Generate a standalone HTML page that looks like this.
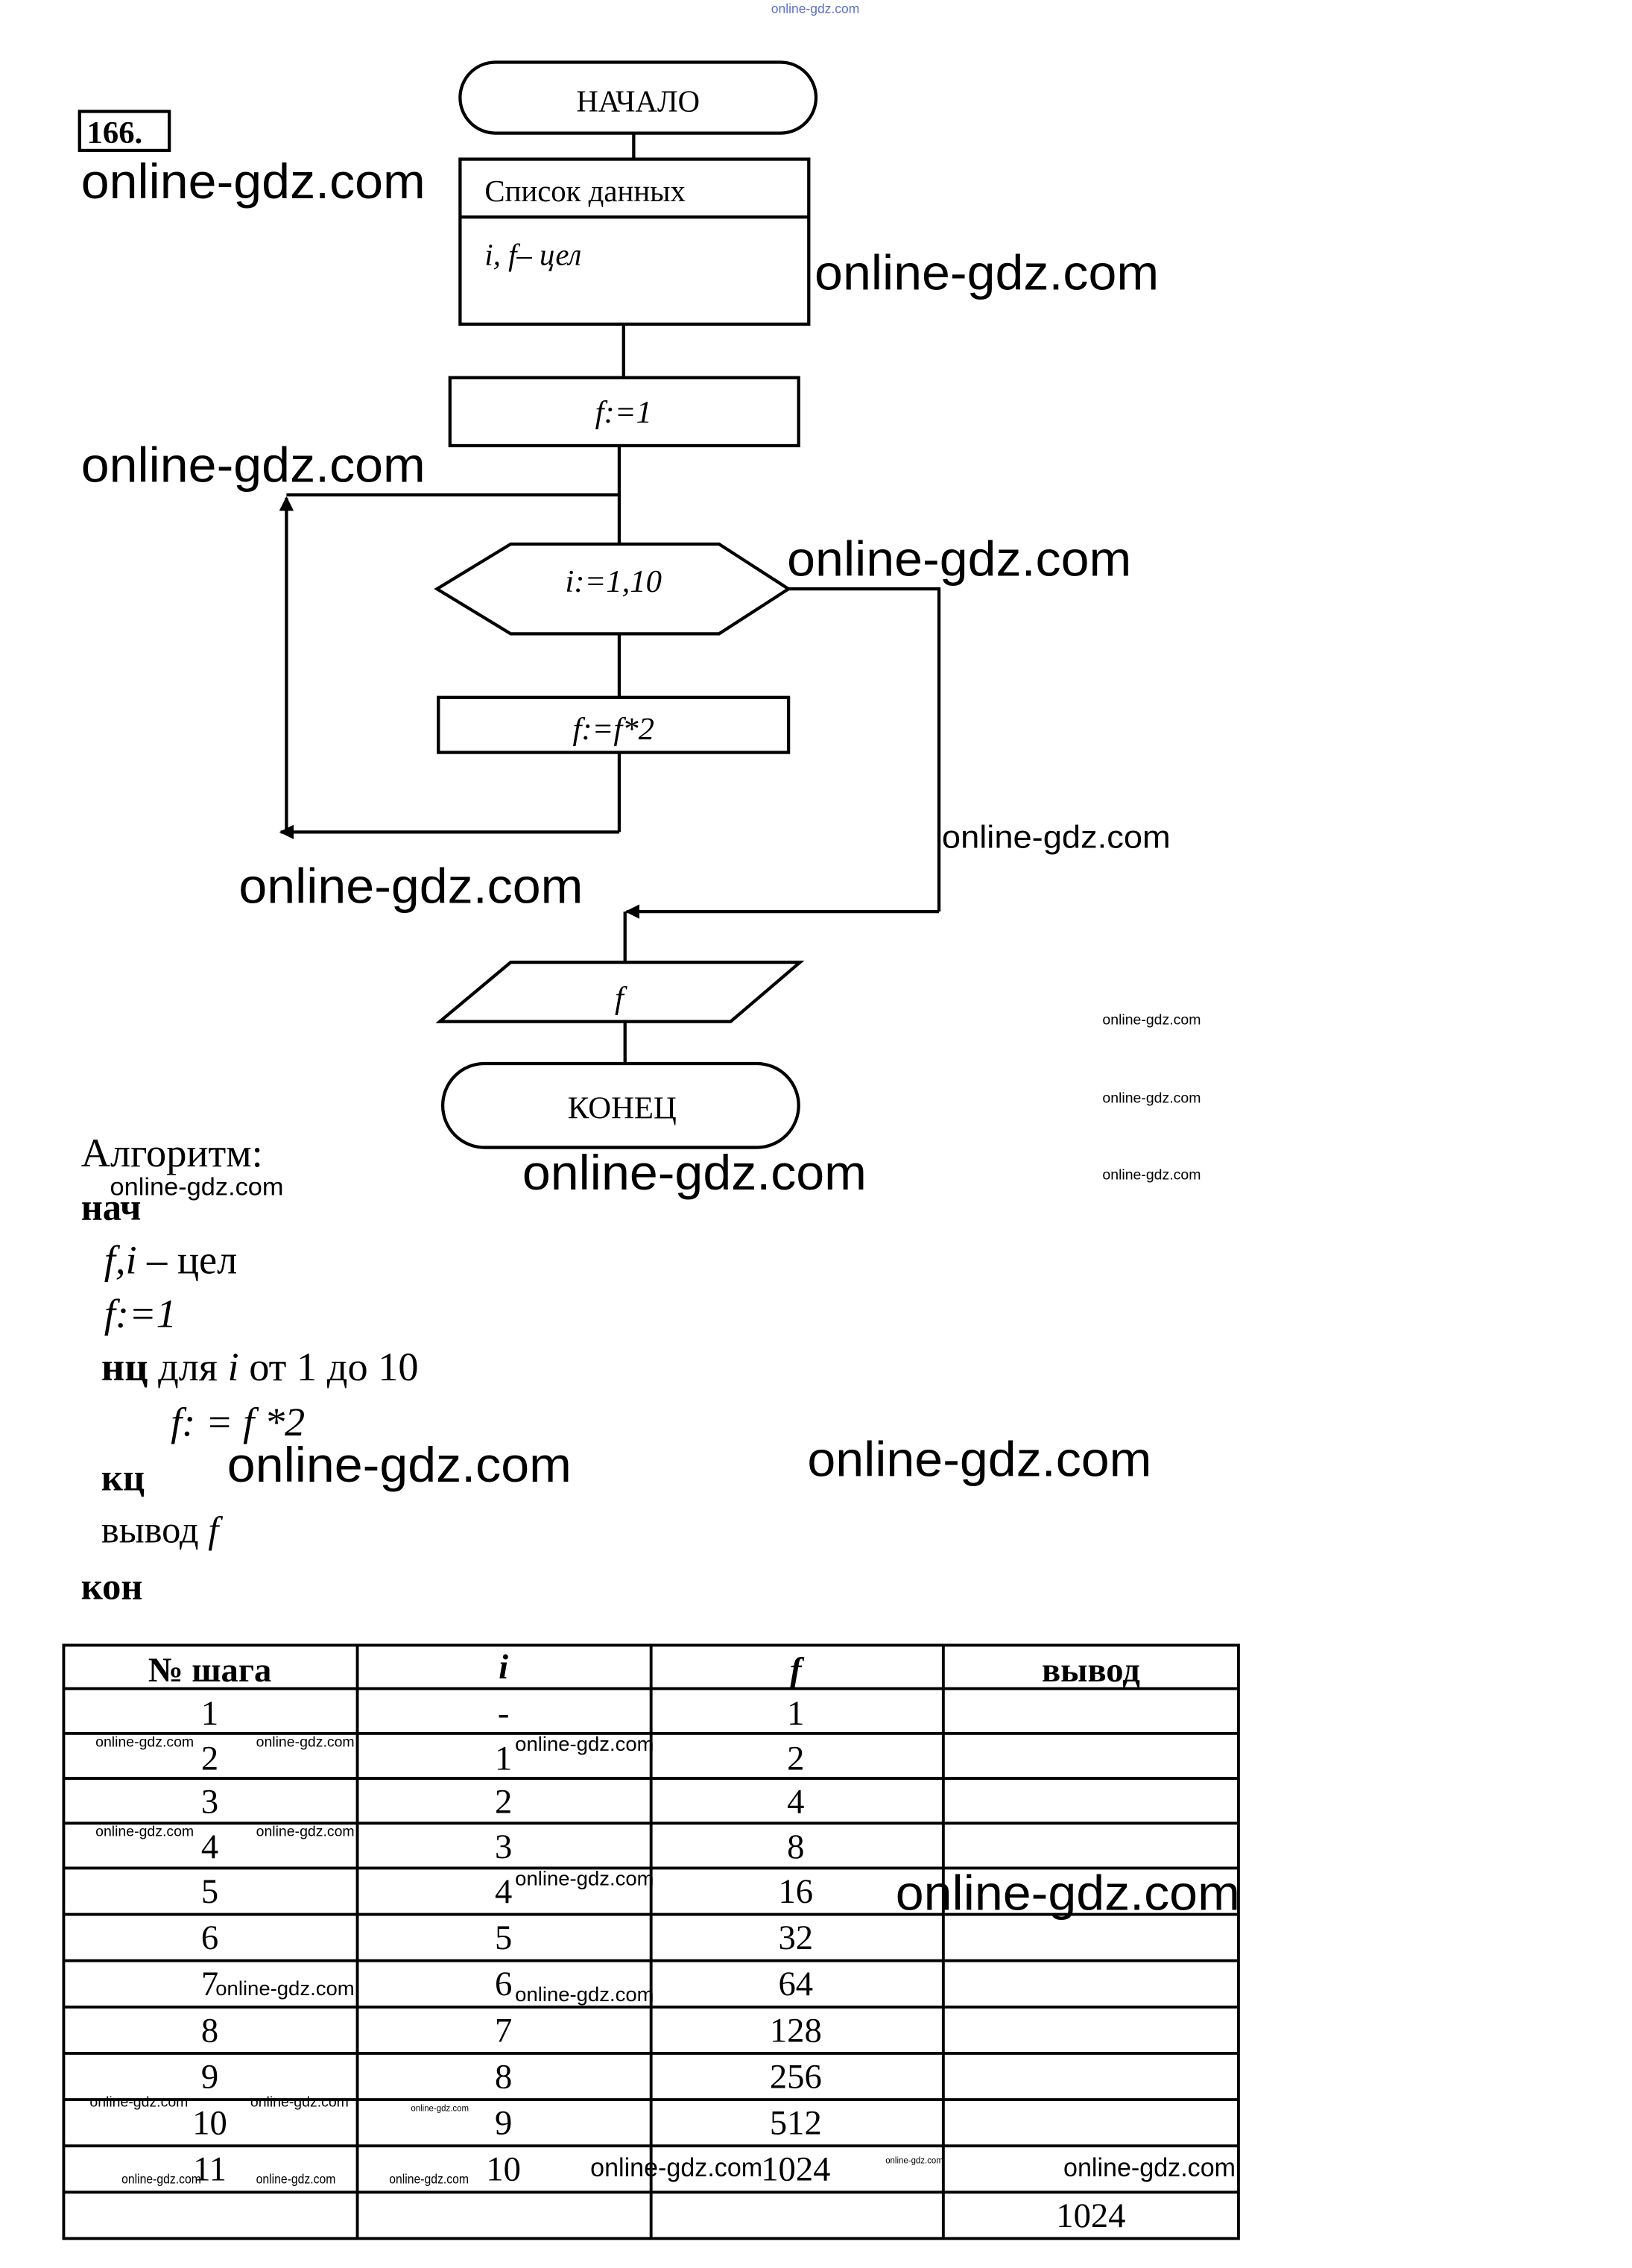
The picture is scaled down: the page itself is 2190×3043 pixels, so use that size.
<!DOCTYPE html>
<html><head><meta charset="utf-8"><style>
html,body{margin:0;padding:0;background:#fff}
svg{display:block}
.s{font-family:"Liberation Serif","DejaVu Serif",serif}
.w{font-family:"Liberation Sans","DejaVu Sans",sans-serif;fill:#000}
</style></head><body>
<svg width="2190" height="3043" viewBox="0 0 1128 1567.4" preserveAspectRatio="none" xmlns="http://www.w3.org/2000/svg">
<rect width="1140" height="1584" fill="#fff"/>
<defs><marker id="a" markerWidth="10" markerHeight="10" refX="9" refY="5" orient="auto" markerUnits="userSpaceOnUse"><path d="M0,0 L10,5 L0,10 z" fill="#000"/></marker></defs>
<text x="533" y="9" class="w" font-size="9" style="fill:#5a6fd0">online-gdz.com</text>
<g fill="none" stroke="#000" stroke-width="2.2">
<rect x="55" y="77" width="62" height="27"/>
<rect x="318" y="43" width="246" height="49" rx="24.5"/>
<line x1="438" y1="92" x2="438" y2="110"/>
<rect x="318" y="110" width="241" height="114"/>
<line x1="318" y1="150" x2="559" y2="150"/>
<line x1="431" y1="224" x2="431" y2="260"/>
<rect x="311" y="261" width="241" height="47"/>
<line x1="428" y1="308" x2="428" y2="376"/>
<line x1="428" y1="342" x2="198" y2="342"/>
<line x1="198" y1="575" x2="198" y2="344" marker-end="url(#a)"/>
<polygon points="302,407 353,376 497,376 545,407 497,438 353,438"/>
<line x1="428" y1="438" x2="428" y2="482"/>
<rect x="303" y="482" width="242" height="38"/>
<line x1="428" y1="520" x2="428" y2="575"/>
<line x1="428" y1="575" x2="194" y2="575" marker-end="url(#a)"/>
<polyline points="545,407 649,407 649,630"/>
<line x1="649" y1="630" x2="433" y2="630" marker-end="url(#a)"/>
<line x1="432" y1="630" x2="432" y2="665"/>
<polygon points="304,706 353,665 553,665 505,706"/>
<line x1="432" y1="706" x2="432" y2="735"/>
<rect x="306" y="735" width="246" height="58" rx="29"/>
</g>
<g class="s" fill="#000">
<text x="60" y="99" font-size="22" font-weight="bold">166.</text>
<text x="441" y="77" font-size="21" text-anchor="middle">НАЧАЛО</text>
<text x="335" y="139" font-size="21">Список данных</text>
<text x="335" y="183" font-size="21" font-style="italic">i, f– цел</text>
<text x="431" y="292" font-size="22" font-style="italic" text-anchor="middle">f:=1</text>
<text x="424" y="409" font-size="22" font-style="italic" text-anchor="middle">i:=1,10</text>
<text x="424" y="511" font-size="22" font-style="italic" text-anchor="middle">f:=f*2</text>
<text x="428" y="697" font-size="22" font-style="italic" text-anchor="middle">f</text>
<text x="430" y="773" font-size="22" text-anchor="middle">КОНЕЦ</text>
<text x="56" y="806" font-size="28">Алгоритм:</text>
<text x="56" y="843" font-size="26" font-weight="bold">нач</text>
<text x="72" y="880" font-size="28"><tspan font-style="italic">f,i</tspan> – цел</text>
<text x="72" y="917" font-size="28" font-style="italic">f:=1</text>
<text x="70" y="954" font-size="28"><tspan font-weight="bold">нц</tspan> для <tspan font-style="italic">i</tspan> от 1 до 10</text>
<text x="118" y="992" font-size="28" font-style="italic">f: = f *2</text>
<text x="70" y="1030" font-size="26" font-weight="bold">кц</text>
<text x="70" y="1066" font-size="26">вывод <tspan font-style="italic">f</tspan></text>
<text x="56" y="1105" font-size="26" font-weight="bold">кон</text>
</g>
<g fill="none" stroke="#000" stroke-width="2">
<rect x="44" y="1137" width="812" height="410"/>
<line x1="247" y1="1137" x2="247" y2="1547"/><line x1="450" y1="1137" x2="450" y2="1547"/><line x1="652" y1="1137" x2="652" y2="1547"/>
<line x1="44" y1="1167" x2="856" y2="1167"/><line x1="44" y1="1198" x2="856" y2="1198"/><line x1="44" y1="1229" x2="856" y2="1229"/><line x1="44" y1="1260" x2="856" y2="1260"/><line x1="44" y1="1291" x2="856" y2="1291"/><line x1="44" y1="1323" x2="856" y2="1323"/><line x1="44" y1="1355" x2="856" y2="1355"/><line x1="44" y1="1387" x2="856" y2="1387"/><line x1="44" y1="1419" x2="856" y2="1419"/><line x1="44" y1="1451" x2="856" y2="1451"/><line x1="44" y1="1483" x2="856" y2="1483"/><line x1="44" y1="1515" x2="856" y2="1515"/>
</g>
<g class="s" fill="#000" font-size="24" text-anchor="middle">
<text x="145" y="1162" font-weight="bold">№ шага</text><text x="348" y="1160" font-weight="bold" font-style="italic">i</text><text x="550" y="1162" font-weight="bold" font-style="italic">f</text><text x="754" y="1162" font-weight="bold">вывод</text>
<text x="145" y="1192">1</text><text x="348" y="1192">-</text><text x="550" y="1192">1</text>
<text x="145" y="1223">2</text><text x="348" y="1223">1</text><text x="550" y="1223">2</text>
<text x="145" y="1253">3</text><text x="348" y="1253">2</text><text x="550" y="1253">4</text>
<text x="145" y="1284">4</text><text x="348" y="1284">3</text><text x="550" y="1284">8</text>
<text x="145" y="1315">5</text><text x="348" y="1315">4</text><text x="550" y="1315">16</text>
<text x="145" y="1347">6</text><text x="348" y="1347">5</text><text x="550" y="1347">32</text>
<text x="145" y="1379">7</text><text x="348" y="1379">6</text><text x="550" y="1379">64</text>
<text x="145" y="1411">8</text><text x="348" y="1411">7</text><text x="550" y="1411">128</text>
<text x="145" y="1443">9</text><text x="348" y="1443">8</text><text x="550" y="1443">256</text>
<text x="145" y="1475">10</text><text x="348" y="1475">9</text><text x="550" y="1475">512</text>
<text x="145" y="1507">11</text><text x="348" y="1507">10</text><text x="550" y="1507">1024</text>
<text x="754" y="1539">1024</text>
</g>
<g class="w">
<text x="56" y="137" font-size="34" textLength="238" lengthAdjust="spacingAndGlyphs">online-gdz.com</text>
<text x="563" y="200" font-size="34" textLength="238" lengthAdjust="spacingAndGlyphs">online-gdz.com</text>
<text x="56" y="333" font-size="34" textLength="238" lengthAdjust="spacingAndGlyphs">online-gdz.com</text>
<text x="544" y="398" font-size="34" textLength="238" lengthAdjust="spacingAndGlyphs">online-gdz.com</text>
<text x="651" y="586" font-size="22" textLength="158" lengthAdjust="spacingAndGlyphs">online-gdz.com</text>
<text x="165" y="624" font-size="34" textLength="238" lengthAdjust="spacingAndGlyphs">online-gdz.com</text>
<text x="762" y="708" font-size="10" textLength="68" lengthAdjust="spacingAndGlyphs">online-gdz.com</text>
<text x="762" y="762" font-size="10" textLength="68" lengthAdjust="spacingAndGlyphs">online-gdz.com</text>
<text x="762" y="815" font-size="10" textLength="68" lengthAdjust="spacingAndGlyphs">online-gdz.com</text>
<text x="361" y="822" font-size="34" textLength="238" lengthAdjust="spacingAndGlyphs">online-gdz.com</text>
<text x="76" y="826" font-size="17" textLength="120" lengthAdjust="spacingAndGlyphs">online-gdz.com</text>
<text x="558" y="1020" font-size="34" textLength="238" lengthAdjust="spacingAndGlyphs">online-gdz.com</text>
<text x="157" y="1024" font-size="34" textLength="238" lengthAdjust="spacingAndGlyphs">online-gdz.com</text>
<text x="619" y="1320" font-size="34" textLength="238" lengthAdjust="spacingAndGlyphs">online-gdz.com</text>
<text x="66" y="1207" font-size="10" textLength="68" lengthAdjust="spacingAndGlyphs">online-gdz.com</text>
<text x="177" y="1207" font-size="10" textLength="68" lengthAdjust="spacingAndGlyphs">online-gdz.com</text>
<text x="356" y="1210" font-size="14" textLength="96" lengthAdjust="spacingAndGlyphs">online-gdz.com</text>
<text x="66" y="1269" font-size="10" textLength="68" lengthAdjust="spacingAndGlyphs">online-gdz.com</text>
<text x="177" y="1269" font-size="10" textLength="68" lengthAdjust="spacingAndGlyphs">online-gdz.com</text>
<text x="356" y="1303" font-size="14" textLength="96" lengthAdjust="spacingAndGlyphs">online-gdz.com</text>
<text x="149" y="1379" font-size="14" textLength="96" lengthAdjust="spacingAndGlyphs">online-gdz.com</text>
<text x="356" y="1383" font-size="14" textLength="96" lengthAdjust="spacingAndGlyphs">online-gdz.com</text>
<text x="62" y="1456" font-size="10" textLength="68" lengthAdjust="spacingAndGlyphs">online-gdz.com</text>
<text x="173" y="1456" font-size="10" textLength="68" lengthAdjust="spacingAndGlyphs">online-gdz.com</text>
<text x="284" y="1459" font-size="6" textLength="40" lengthAdjust="spacingAndGlyphs">online-gdz.com</text>
<text x="84" y="1509" font-size="9" textLength="55" lengthAdjust="spacingAndGlyphs">online-gdz.com</text>
<text x="177" y="1509" font-size="9" textLength="55" lengthAdjust="spacingAndGlyphs">online-gdz.com</text>
<text x="269" y="1509" font-size="9" textLength="55" lengthAdjust="spacingAndGlyphs">online-gdz.com</text>
<text x="408" y="1504" font-size="18" textLength="119" lengthAdjust="spacingAndGlyphs">online-gdz.com</text>
<text x="612" y="1495" font-size="6" textLength="40" lengthAdjust="spacingAndGlyphs">online-gdz.com</text>
<text x="735" y="1504" font-size="18" textLength="119" lengthAdjust="spacingAndGlyphs">online-gdz.com</text>
</g>
</svg>
</body></html>
